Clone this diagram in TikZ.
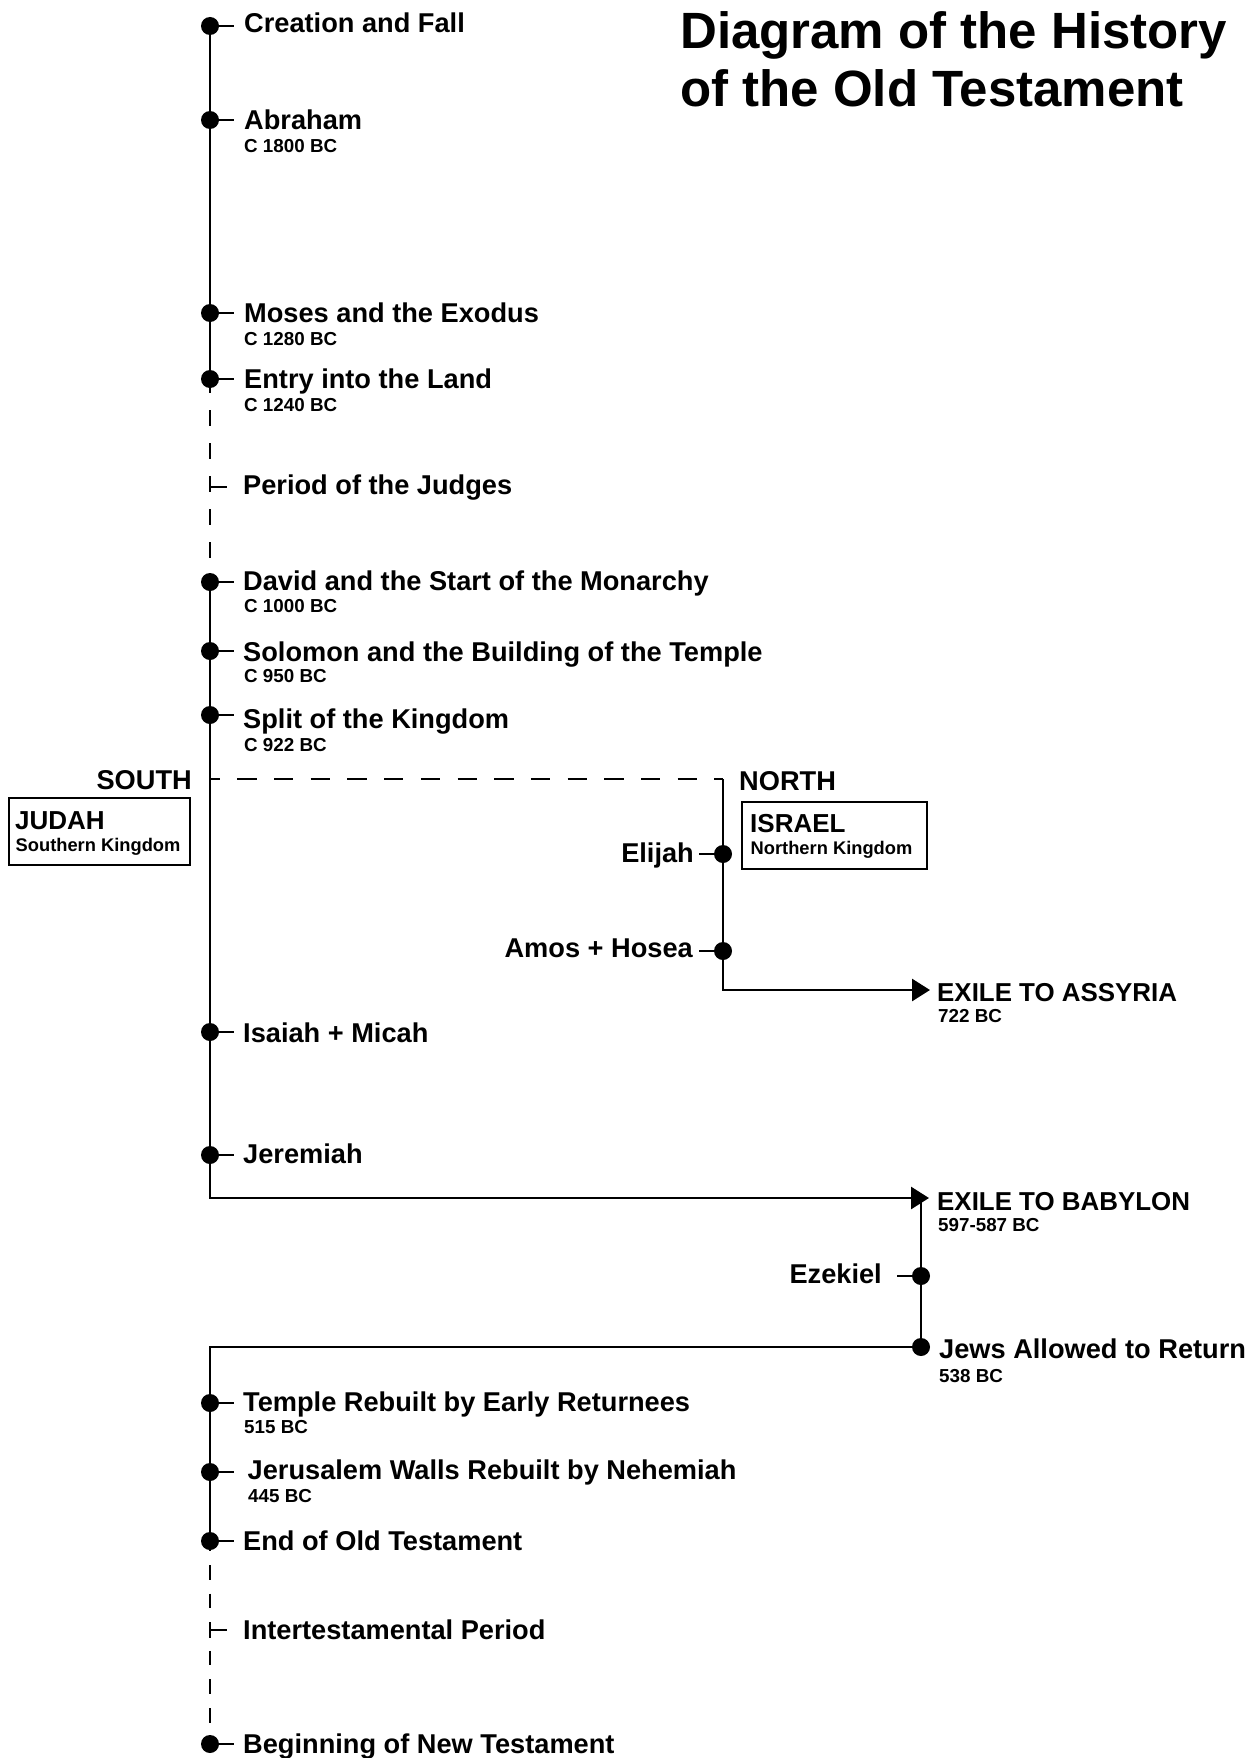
\documentclass[tikz,border=0pt]{standalone}
\usepackage{fontspec}
\setmainfont{Liberation Sans}
\usetikzlibrary{arrows.meta}
\begin{document}
\begin{tikzpicture}[x=1pt,y=-1pt,
  lbl/.style={anchor=base west,inner sep=0pt,font=\fontsize{27.2}{30}\selectfont\bfseries},
  lble/.style={anchor=base east,inner sep=0pt,font=\fontsize{27.2}{30}\selectfont\bfseries},
  exlbl/.style={anchor=base west,inner sep=0pt,font=\fontsize{25.9}{30}\selectfont\bfseries},
  datelbl/.style={anchor=base west,inner sep=0pt,font=\fontsize{18.8}{20}\selectfont\bfseries},
  ttl/.style={anchor=base west,inner sep=0pt,font=\fontsize{51}{57}\selectfont\bfseries},
  kname/.style={anchor=base west,inner sep=0pt,font=\fontsize{26}{28}\selectfont\bfseries},
  ksub/.style={anchor=base west,inner sep=0pt,font=\fontsize{18.3}{20}\selectfont\bfseries},
  kbox/.style={draw,line width=2pt,anchor=north west,inner sep=0pt},
  dot/.style={circle,fill=black,inner sep=0pt,minimum size=18pt},
  ln/.style={line width=2.8pt},
  thin/.style={line width=2pt},
  tipA/.style={-{Triangle[length=18pt,width=22pt]}}
]
\useasboundingbox (0,0) rectangle (1254,1758);
\fill[white] (0,0) rectangle (1254,1758);

% title
\node[ttl] (title1) at (680,49) {Diagram of the History};
\node[ttl] (title2) at (680,107) {of the Old Testament};

% main column dots
\node[dot] (creation) at (210,26) {};
\node[dot] (abraham) at (210,120) {};
\node[dot] (moses) at (210,313) {};
\node[dot] (entry) at (210,379) {};
\coordinate (judges) at (210,487);
\node[dot] (david) at (210,582) {};
\node[dot] (solomon) at (210,651) {};
\node[dot] (split) at (210,715) {};
\coordinate (splitpt) at (210,779);
\node[dot] (isaiah) at (210,1032) {};
\node[dot] (jeremiah) at (210,1155) {};
\coordinate (babtip) at (929,1198);
\coordinate (babv) at (921,1198);
\node[dot] (ezekiel) at (921,1276) {};
\node[dot] (jews) at (921,1347) {};
\node[dot] (temple) at (210,1403) {};
\node[dot] (jerusalem) at (210,1472) {};
\node[dot] (endot) at (210,1541) {};
\coordinate (inter) at (210,1630);
\node[dot] (beginnt) at (210,1744) {};

% north
\coordinate (ncorner) at (723,779);
\node[dot] (elijah) at (723,854) {};
\node[dot] (amos) at (723,951) {};
\coordinate (asytip) at (930,990);

% connectors
\draw[ln] (creation.center) -- (entry.center);
\draw[ln,dash pattern=on 16pt off 17pt,dash phase=2pt] (entry.center) -- (david.center);
\draw[ln,tipA] (david.center) |- (babtip);
\draw[ln,dash pattern=on 19.3pt off 17.4pt,dash phase=9.4pt] (splitpt) -- (ncorner);
\draw[ln,tipA] (ncorner) -- (amos.center) |- (asytip);
\draw[ln] (babv) -- (jews.center);
\draw[ln] (jews.center) -| (endot.center);
\draw[ln,dash pattern=on 14.5pt off 14.1pt,dash phase=4.6pt] (endot.center) -- (beginnt.center);

% ticks
\foreach \n in {creation,abraham,moses,entry,david,solomon,split,isaiah,jeremiah,temple,jerusalem,endot,beginnt}
  \draw[ln] (\n.center) -- ++(24,0);
\draw[thin] (judges) -- ++(17,0);
\draw[thin] (inter) -- ++(17,0);
\draw[thin] (inter) ++(0,-8) -- ++(0,16);
\draw[ln] (elijah.center) -- ++(-24,0);
\draw[ln] (amos.center) -- ++(-24,0);
\draw[ln] (ezekiel.center) -- ++(-24,0);

% main labels
\node[lbl] (tcreation) at (244,33) {Creation and Fall};
\node[lbl] (tabraham) at (244,129) {Abraham};
\node[datelbl] (dabraham) at (244,152) {C 1800 BC};
\node[lbl] (tmoses) at (244,322) {Moses and the Exodus};
\node[datelbl] (dmoses) at (244,345) {C 1280 BC};
\node[lbl] (tentry) at (244,388) {Entry into the Land};
\node[datelbl] (dentry) at (244,411) {C 1240 BC};
\node[lbl] (tjudges) at (243,494) {Period of the Judges};
\node[lbl] (tdavid) at (243,590) {David and the Start of the Monarchy};
\node[datelbl] (ddavid) at (244,612) {C 1000 BC};
\node[lbl] (tsolomon) at (243,661) {Solomon and the Building of the Temple};
\node[datelbl] (dsolomon) at (244,682) {C 950 BC};
\node[lbl] (tsplit) at (243,728) {Split of the Kingdom};
\node[datelbl] (dsplit) at (244,751) {C 922 BC};
\node[lbl] (tisaiah) at (243,1042) {Isaiah + Micah};
\node[lbl] (tjeremiah) at (243,1163) {Jeremiah};
\node[lbl] (ttemple) at (243,1411) {Temple Rebuilt by Early Returnees};
\node[datelbl] (dtemple) at (244,1433) {515 BC};
\node[lbl] (tjerusalem) at (247.5,1479) {Jerusalem Walls Rebuilt by Nehemiah};
\node[datelbl] (djerusalem) at (248,1502) {445 BC};
\node[lbl] (tendot) at (243,1550) {End of Old Testament};
\node[lbl] (tinter) at (243,1639) {Intertestamental Period};
\node[lbl] (tbeginnt) at (243,1753) {Beginning of New Testament};

% south / north
\node[lble] (south) at (192,789) {SOUTH};
\node[kbox,minimum width=181pt,minimum height=67pt] (judahbox) at (8,797) {};
\node[kname] (judah) at (15,829) {JUDAH};
\node[ksub] (judahsub) at (15.5,851) {Southern Kingdom};
\node[lbl] (north) at (739,790) {NORTH};
\node[kbox,minimum width=185pt,minimum height=67pt] (israelbox) at (741,801) {};
\node[kname] (israel) at (750,832) {ISRAEL};
\node[ksub] (israelsub) at (750.5,854) {Northern Kingdom};
\node[lble] (telijah) at (694,862) {Elijah};
\node[lble] (tamos) at (693,957) {Amos + Hosea};
\node[lble] (tezekiel) at (882,1283) {Ezekiel};

% exiles
\node[exlbl] (tassyria) at (937,1001) {EXILE TO ASSYRIA};
\node[datelbl] (dassyria) at (938,1022) {722 BC};
\node[exlbl] (tbabylon) at (937,1210) {EXILE TO BABYLON};
\node[datelbl] (dbabylon) at (938,1231) {597-587 BC};
\node[lbl] (tjews) at (939,1358) {Jews Allowed to Return};
\node[datelbl] (djews) at (939,1382) {538 BC};
\end{tikzpicture}
\end{document}
